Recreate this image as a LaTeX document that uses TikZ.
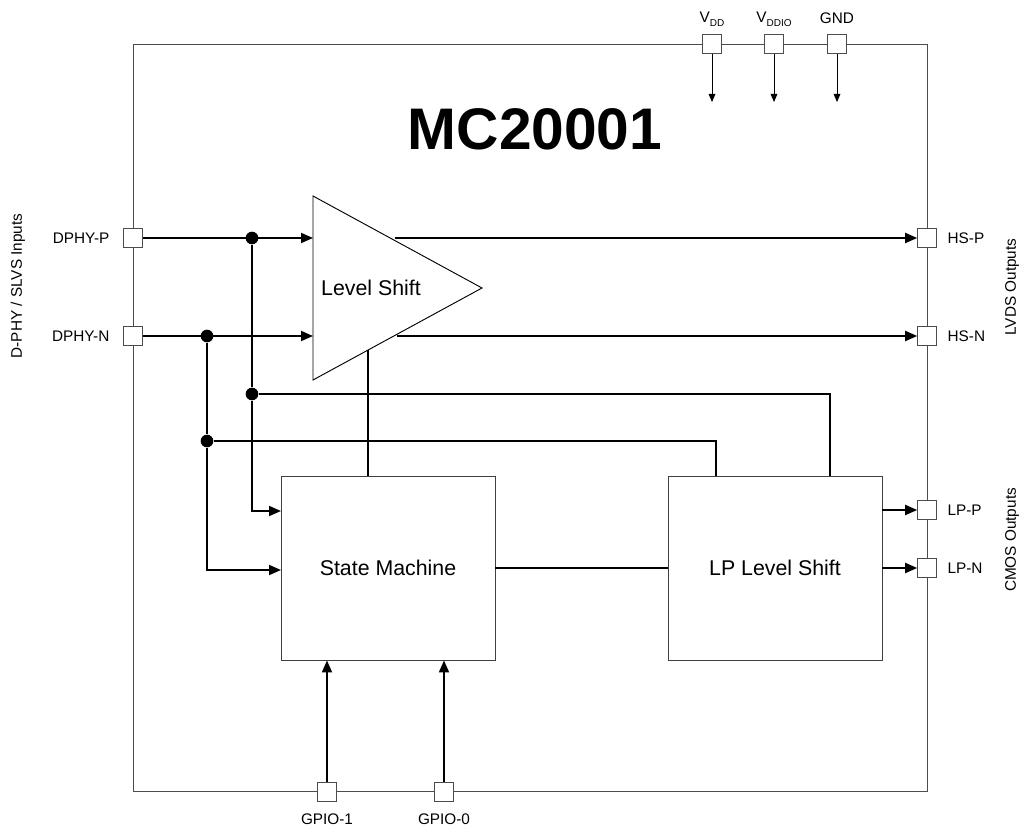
\documentclass[tikz,border=0pt]{standalone}
\usepackage{fontspec}
\setmainfont{Liberation Sans}
\usetikzlibrary{arrows.meta}

\tikzset{
  pinbox/.style={draw=black!70, fill=white, line width=0.7pt, minimum size=14pt, inner sep=0pt},
  wire/.style={line width=1.4pt},
  arr/.style={-{Triangle[length=9pt,width=7.5pt]}},
  supply/.style={line width=0.7pt, -{Triangle[length=6pt,width=5pt]}},
  junction/.style={circle, fill=black, minimum size=9.5pt, inner sep=0pt},
  blockbox/.style={draw=black!75, line width=0.7pt, minimum width=160.5pt, minimum height=138pt, font=\fontsize{16}{19}\selectfont},
  lbl/.style={font=\fontsize{11.5}{13}\selectfont, inner sep=1pt},
}

\begin{document}
\begin{tikzpicture}[x=0.75pt, y=-0.75pt]
    \useasboundingbox (0,0) rectangle (1024,834);

    % Gehaeuse
    \draw[black!70, line width=0.7pt] (133,44) rectangle (927,791);
    \node[font=\fontsize{44}{50}\selectfont\bfseries] (title) at (535,129) {MC20001};

    % Level Shift (Dreieck)
    \coordinate (lstop) at (313,196);
    \coordinate (lsbot) at (313,380);
    \coordinate (lstip) at (482,288);
    \draw[line width=0.7pt] (lstop) -- (lstip) -- (lsbot) -- cycle;
    \node[font=\fontsize{16}{19}\selectfont] (lslabel) at (371,288) {Level Shift};
    \coordinate (lsout1) at (395,238);
    \coordinate (lsout2) at (397,336);
    \coordinate (lsdown) at (368,350);

    % Bloecke
    \node[blockbox] (sm) at (388,568) {State Machine};
    \node[blockbox] (lp) at (775,568) {LP Level Shift};

    % Pins links
    \node[pinbox] (dphyp) at (133,238) {};
    \node[pinbox] (dphyn) at (133,336) {};
    \node[lbl, anchor=east] (dphypl) at (111,238) {DPHY-P};
    \node[lbl, anchor=east] (dphynl) at (111,336) {DPHY-N};
    \node[lbl, rotate=90] (inlbl) at (18,286) {D-PHY / SLVS Inputs};

    % Pins rechts
    \node[pinbox] (hsp) at (927,238) {};
    \node[pinbox] (hsn) at (927,336) {};
    \node[pinbox] (lpp) at (927,510) {};
    \node[pinbox] (lpn) at (927,568) {};
    \node[lbl, anchor=west] (hspl) at (946,238) {HS-P};
    \node[lbl, anchor=west] (hsnl) at (946,336) {HS-N};
    \node[lbl, anchor=west] (lppl) at (946,510) {LP-P};
    \node[lbl, anchor=west] (lpnl) at (946,568) {LP-N};
    \node[lbl, rotate=90] (lvdslbl) at (1012,287) {LVDS Outputs};
    \node[lbl, rotate=90] (cmoslbl) at (1012,540) {CMOS Outputs};

    % Pins oben
    \node[pinbox] (vdd) at (712,44) {};
    \node[pinbox] (vddio) at (774,44) {};
    \node[pinbox] (gnd) at (837,44) {};
    \node[lbl] (vddl) at (712,19) {V\raisebox{-0.5ex}{\fontsize{7.5}{9}\selectfont DD}};
    \node[lbl] (vddiol) at (774,19) {V\raisebox{-0.5ex}{\fontsize{7.5}{9}\selectfont DDIO}};
    \node[lbl] (gndl) at (837,18) {GND};
    \coordinate (vdde) at (712,102);
    \coordinate (vddioe) at (774,102);
    \coordinate (gnde) at (837,102);
    \draw[supply] (vdd.south) -- (vdde);
    \draw[supply] (vddio.south) -- (vddioe);
    \draw[supply] (gnd.south) -- (gnde);

    % Pins unten
    \node[pinbox] (gpio1) at (327,792) {};
    \node[pinbox] (gpio0) at (444,792) {};
    \node[lbl] (gpio1l) at (327,819) {GPIO-1};
    \node[lbl] (gpio0l) at (444,819) {GPIO-0};

    % Eingaenge
    \draw[wire, arr] (dphyp.east) -- (dphyp.east -| lstop);
    \draw[wire, arr] (dphyn.east) -- (dphyn.east -| lstop);
    \node[junction] (jp1) at (252,238) {};
    \node[junction] (jn1) at (207,336) {};
    \node[junction] (jp2) at (252,394) {};
    \node[junction] (jn2) at (207,441) {};
    \coordinate (smin1) at (281,511);
    \coordinate (smin2) at (281,570);
    \coordinate (lptop1) at (830,476);
    \coordinate (lptop2) at (716,476);
    \draw[wire] (jp1) -- (jp2);
    \draw[wire] (jn1) -- (jn2);
    \draw[wire, arr] (jp2) |- (smin1);
    \draw[wire, arr] (jn2) |- (smin2);
    \draw[wire] (jp2) -| (lptop1);
    \draw[wire] (jn2) -| (lptop2);

    % Ausgaenge
    \draw[wire, arr] (lsout1) -- (hsp.west);
    \draw[wire, arr] (lsout2) -- (hsn.west);
    \draw[wire, arr] (lp.east |- lpp) -- (lpp.west);
    \draw[wire, arr] (lp.east |- lpn) -- (lpn.west);

    % interne Verbindungen
    \draw[wire] (lsdown) -- (lsdown |- sm.north);
    \draw[wire] (sm) -- (lp);
    \draw[wire, arr] (gpio1.north) -- (gpio1 |- sm.south);
    \draw[wire, arr] (gpio0.north) -- (gpio0 |- sm.south);
\end{tikzpicture}
\end{document}
